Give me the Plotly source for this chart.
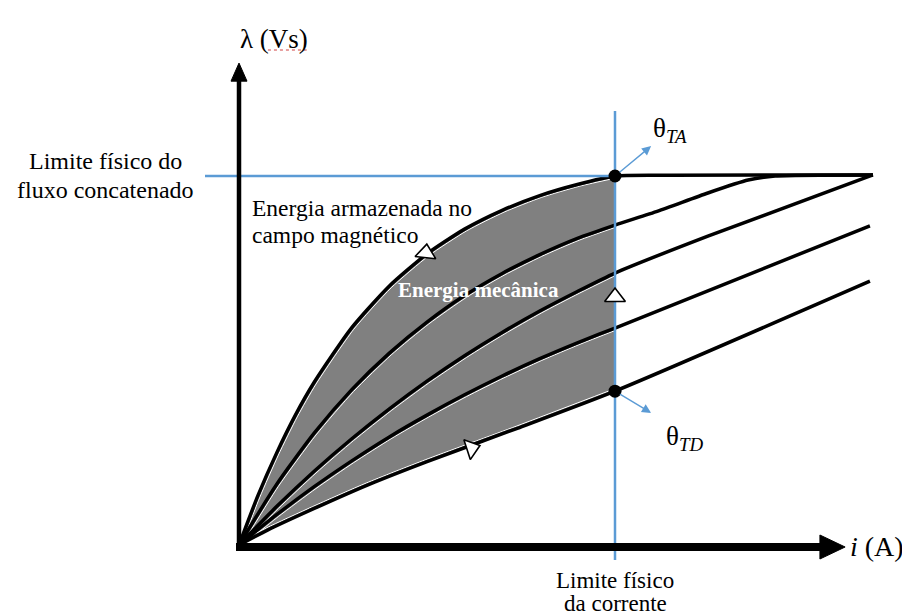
import plotly.graph_objects as go

# ---------------- data (i in A-units, lambda in Vs-units; limits = 10) ----------------
I_LIM = 10.0      # physical current limit
LAM_LIM = 10.0    # physical flux-linkage limit

# magnetisation curves, from aligned (c1, theta_TA) to unaligned (c5, theta_TD)
i_c1 = [0, 0.5, 1, 1.5, 2, 3, 4, 5, 6, 7, 8, 9, 10, 11.5, 16.86]
lam_c1 = [0, 1.33, 2.49, 3.52, 4.41, 5.89, 7.02, 7.89, 8.56, 9.07, 9.47, 9.77, 10.0, 10.02, 10.03]

i_c2 = [0, 1, 2, 3, 4, 5, 6, 7, 8, 9, 10, 11.14, 12.47, 13.54, 14.26, 16.86]
lam_c2 = [0, 1.64, 3.03, 4.21, 5.20, 6.04, 6.76, 7.36, 7.87, 8.31, 8.67, 9.05, 9.54, 9.89, 10.0, 10.03]

i_c3 = [0, 1, 2, 3, 4, 5, 6, 7, 8, 9, 10, 12.47, 16.86]
lam_c3 = [0, 1.04, 2.00, 2.88, 3.69, 4.44, 5.13, 5.76, 6.34, 6.87, 7.37, 8.37, 10.03]

i_c4 = [0, 1, 2, 3, 4, 5, 6, 7, 8, 9, 10, 16.78]
lam_c4 = [0, 0.82, 1.58, 2.28, 2.93, 3.52, 4.07, 4.58, 5.05, 5.48, 5.88, 8.65]

i_c5 = [0, 0.77, 2, 3.43, 5, 7.42, 10, 16.78]
lam_c5 = [0, 0.41, 0.99, 1.63, 2.26, 3.17, 4.17, 7.15]

curves = [(i_c1, lam_c1), (i_c2, lam_c2), (i_c3, lam_c3), (i_c4, lam_c4), (i_c5, lam_c5)]

# direction markers (i, lambda, symbol, angle)
tri_i = [4.97, 10.0, 6.18]
tri_lam = [7.91, 6.72, 2.62]
tri_sym = ["triangle-up", "triangle-up", "triangle-right"]
tri_ang = [6, 0, -18]

# axis extents
X_AXIS_END = 15.5
X_AXIS_TIP = 16.12
Y_AXIS_END = 12.62
Y_AXIS_TIP = 13.06

# ---------------- layout mapping ----------------
W, H = 910, 615
OX, OY = 231, 537          # origin in pixels
PX_I, PX_L = 37.6, 36.9    # pixels per unit
x_range = [-OX / PX_I, (W - OX) / PX_I]
y_range = [-(H - OY) / PX_L, OY / PX_L]
dx, dy = 1.8 / PX_I, 1.8 / PX_L

BLUE = "#5B9BD5"
GRAY = "#808080"
SERIF = "Liberation Serif, Times New Roman, serif"
SM = 0.6

def upto(ii, ll, lim=I_LIM):
    xs, ys = [], []
    for a, b in zip(ii, ll):
        if a <= lim + 1e-9:
            xs.append(a); ys.append(b)
    return xs, ys

fig = go.Figure()

# grey energy region between aligned and unaligned curves, up to the current limit
x5, y5 = upto(i_c5, lam_c5)
x1, y1 = upto(i_c1, lam_c1)
fig.add_trace(go.Scatter(x=x5, y=y5, mode="lines", line=dict(width=0, shape="spline", smoothing=SM),
                         hoverinfo="skip", showlegend=False))
fig.add_trace(go.Scatter(x=x1, y=y1, mode="lines", line=dict(width=0, shape="spline", smoothing=SM),
                         fill="tonexty", fillcolor=GRAY, hoverinfo="skip", showlegend=False))

# thin white halo lines inside grey region
for k, (ii, ll) in enumerate(curves):
    xs, ys = upto(ii, ll)
    if k < 4:
        wx = [a + dx for a in xs]; wy = [b - dy for b in ys]
    else:
        wx = [a - dx for a in xs]; wy = [b + dy for b in ys]
    fig.add_trace(go.Scatter(x=wx, y=wy, mode="lines",
                             line=dict(color="white", width=1, shape="spline", smoothing=SM),
                             hoverinfo="skip", showlegend=False))

# black curves
for ii, ll in curves:
    fig.add_trace(go.Scatter(x=ii, y=ll, mode="lines",
                             line=dict(color="black", width=3.5, shape="spline", smoothing=SM),
                             hoverinfo="skip", showlegend=False))

# blue limit lines
fig.add_trace(go.Scatter(x=[I_LIM, I_LIM], y=[-15 / PX_L, (OY - 103) / PX_L], mode="lines",
                         line=dict(color=BLUE, width=2.5), hoverinfo="skip", showlegend=False))
fig.add_trace(go.Scatter(x=[-(OX - 197) / PX_I, I_LIM], y=[LAM_LIM, LAM_LIM], mode="lines",
                         line=dict(color=BLUE, width=2.5), hoverinfo="skip", showlegend=False))

# axes (thick black with arrowheads)
fig.add_trace(go.Scatter(x=[-3 / PX_I, X_AXIS_END], y=[-2 / PX_L, -2 / PX_L], mode="lines",
                         line=dict(color="black", width=8), hoverinfo="skip", showlegend=False))
fig.add_trace(go.Scatter(x=[X_AXIS_END - 0.05, X_AXIS_TIP, X_AXIS_END - 0.05, X_AXIS_END - 0.05],
                         y=[-2 / PX_L + 12 / PX_L, -2 / PX_L, -2 / PX_L - 12 / PX_L, -2 / PX_L + 12 / PX_L],
                         mode="lines", fill="toself", fillcolor="black", line=dict(color="black", width=1),
                         hoverinfo="skip", showlegend=False))
fig.add_trace(go.Scatter(x=[0, 0], y=[-6 / PX_L, Y_AXIS_END], mode="lines",
                         line=dict(color="black", width=4.5), hoverinfo="skip", showlegend=False))
fig.add_trace(go.Scatter(x=[-8 / PX_I, 0, 8 / PX_I, -8 / PX_I],
                         y=[Y_AXIS_END - 0.05, Y_AXIS_TIP, Y_AXIS_END - 0.05, Y_AXIS_END - 0.05],
                         mode="lines", fill="toself", fillcolor="black", line=dict(color="black", width=1),
                         hoverinfo="skip", showlegend=False))

# operating points on the current limit
fig.add_trace(go.Scatter(x=[I_LIM, I_LIM], y=[lam_c1[i_c1.index(I_LIM)], lam_c5[i_c5.index(I_LIM)]],
                         mode="markers", marker=dict(color="black", size=13),
                         hoverinfo="skip", showlegend=False))

# direction triangles
fig.add_trace(go.Scatter(x=tri_i, y=tri_lam, mode="markers",
                         marker=dict(symbol=tri_sym, angle=tri_ang, size=18, color="white",
                                     line=dict(color="black", width=1.6)),
                         hoverinfo="skip", showlegend=False))

ann = []
def txt(x, y, s, size, xanchor="center", color="black"):
    ann.append(dict(x=x, y=y, xref="x", yref="y", text=s, showarrow=False, xanchor=xanchor,
                    yanchor="middle", font=dict(family=SERIF, size=size, color=color)))

txt(0.92, 13.71, "λ (Vs)", 27)
txt(-3.55, (OY - 153) / PX_L, "Limite físico do", 24)
txt(-3.55, (OY - 182) / PX_L, "fluxo concatenado", 24)
txt(0.30, (OY - 200) / PX_L, "Energia armazenada no", 23.5, xanchor="left")
txt(0.30, (OY - 227) / PX_L, "campo magnético", 23.5, xanchor="left")
txt(6.38, (OY - 282) / PX_L, "<b>Energia mecânica</b>", 21, color="white")
txt(I_LIM, (OY - 572) / PX_L, "Limite físico", 23)
txt(I_LIM, (OY - 595) / PX_L, "da corrente", 23)
txt(16.2, (OY - 538) / PX_L, "<i>i</i> (A)", 28, xanchor="left")
txt(10.95, 11.25, "θ<sub><i>TA</i></sub>", 27, xanchor="left")
txt(11.3, 2.9, "θ<sub><i>TD</i></sub>", 27, xanchor="left")

# light-blue arrows from the operating points
for (hx, hy, tx, ty) in [(10.96, 10.81, I_LIM, 10.0), (10.96, 3.58, I_LIM, 4.17)]:
    ann.append(dict(x=hx, y=hy, ax=tx, ay=ty, xref="x", yref="y", axref="x", ayref="y",
                    showarrow=True, arrowhead=2, arrowsize=1.3, arrowwidth=1.4,
                    arrowcolor=BLUE, startstandoff=4, standoff=0, text=""))

fig.update_layout(
    width=W, height=H, margin=dict(l=0, r=0, t=0, b=0),
    paper_bgcolor="white", plot_bgcolor="white",
    xaxis=dict(range=x_range, visible=False, fixedrange=True),
    yaxis=dict(range=y_range, visible=False, fixedrange=True),
    annotations=ann,
    shapes=[dict(type="line", xref="x", yref="y", x0=0.77, x1=1.80, y0=(OY - 42) / PX_L, y1=(OY - 42) / PX_L,
                 line=dict(color="#d04040", width=1, dash="dot"))],
)

fig.write_html("out.html")
